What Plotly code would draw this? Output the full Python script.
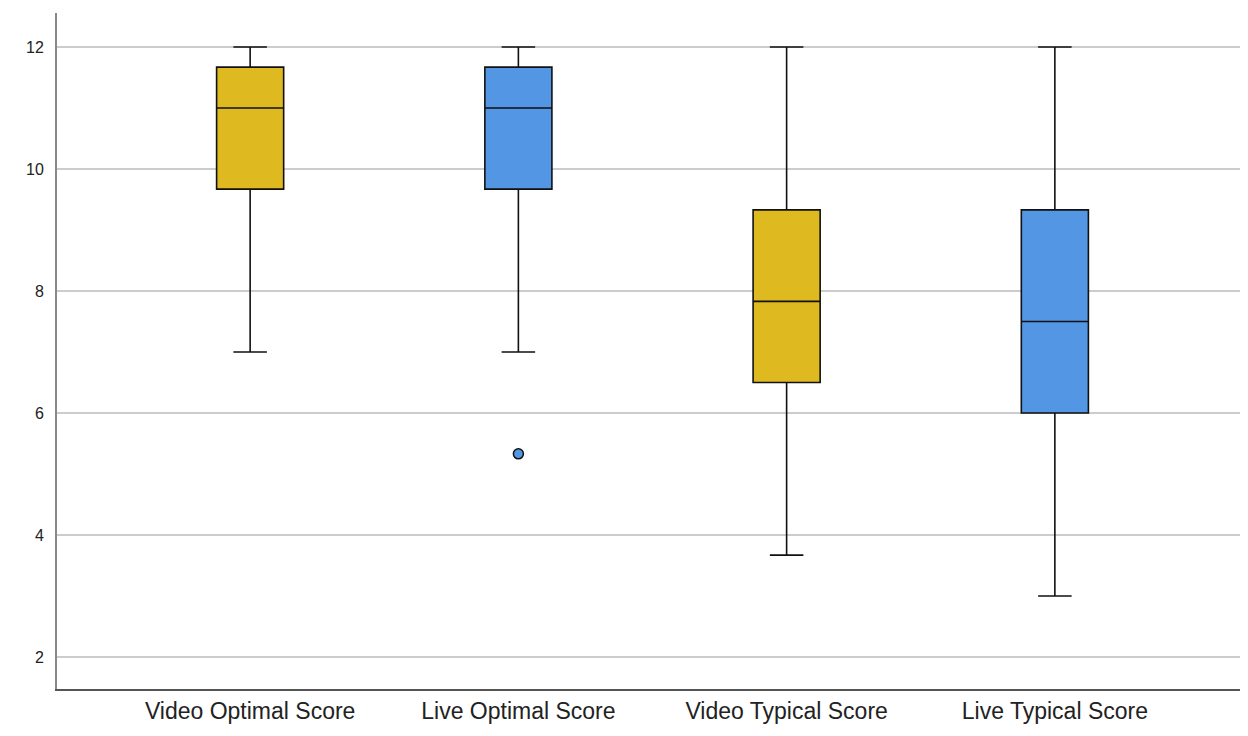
import plotly.graph_objects as go

categories = ["Video Optimal Score", "Live Optimal Score", "Video Typical Score", "Live Typical Score"]
lower_whisker = [7.0, 7.0, 3.67, 3.0]
q1 = [9.67, 9.67, 6.5, 6.0]
median = [11.0, 11.0, 7.83, 7.5]
q3 = [11.67, 11.67, 9.33, 9.33]
upper_whisker = [12.0, 12.0, 12.0, 12.0]
outlier_category = ["Live Optimal Score"]
outlier_value = [5.33]

GOLD = "#DEB91F"
BLUE = "#5397E4"
fills = [GOLD, BLUE, GOLD, BLUE]

fig = go.Figure()
for i, cat in enumerate(categories):
    fig.add_trace(go.Box(
        x=[cat], q1=[q1[i]], median=[median[i]], q3=[q3[i]],
        lowerfence=[lower_whisker[i]], upperfence=[upper_whisker[i]],
        fillcolor=fills[i], line=dict(color="#111111", width=1.6),
        width=0.25, whiskerwidth=0.5, boxpoints=False,
        showlegend=False, hoverinfo="skip",
    ))

fig.add_trace(go.Scatter(
    x=outlier_category, y=outlier_value, mode="markers",
    marker=dict(symbol="circle", size=10, color=BLUE,
                line=dict(color="#111111", width=1.5)),
    showlegend=False, hoverinfo="skip",
))

fig.update_layout(
    width=1240, height=728,
    margin=dict(l=49, r=0, t=5, b=47),
    paper_bgcolor="white", plot_bgcolor="white",
    font=dict(family="Liberation Sans, Arial, sans-serif", color="#222222"),
)
fig.update_xaxes(
    type="category", categoryorder="array", categoryarray=categories,
    range=[-0.72, 3.72], showgrid=False, zeroline=False,
    showline=True, linecolor="#555555", linewidth=2,
    ticks="", tickfont=dict(size=23, color="#222222"),
)
fig.update_yaxes(
    range=[1.475, 12.557], tickvals=[2, 4, 6, 8, 10, 12],
    showgrid=True, gridcolor="#CCCCCC", gridwidth=1.5, zeroline=False,
    showline=True, linecolor="#888888", linewidth=2,
    ticks="", ticklabelstandoff=8, tickfont=dict(size=16, color="#222222"),
)

fig.write_html("out.html")
